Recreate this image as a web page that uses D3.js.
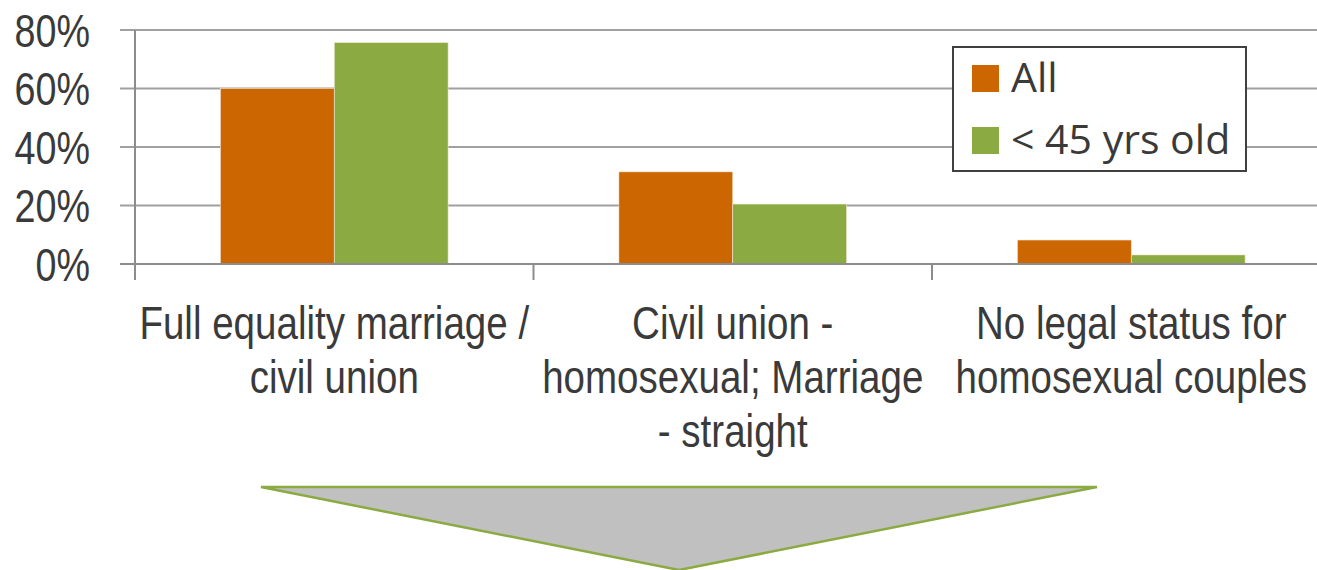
<!DOCTYPE html>
<html>
<head>
<meta charset="utf-8">
<script src="https://cdn.jsdelivr.net/npm/d3@7"></script>
<style>
  html, body { margin: 0; padding: 0; background: #fff; }
  svg { display: block; }
</style>
</head>
<body>
<svg id="chart" width="1317" height="570"></svg>
<script>
/* data */
const categories = ["Full equality", "Civil union / Marriage", "No legal status"];
const categoryLines = [
  ["Full equality marriage /", "civil union"],
  ["Civil union -", "homosexual; Marriage", "- straight"],
  ["No legal status for", "homosexual couples"]
];
const seriesNames = ["All", "< 45 yrs old"];
const valuesAll = [0.60, 0.315, 0.082];
const valuesYoung = [0.757, 0.205, 0.031];
const yTicks = [0, 0.2, 0.4, 0.6, 0.8];

const colors = { "All": "#cc6600", "< 45 yrs old": "#8caa42" };

const svg = d3.select("#chart");
const W = 1317, H = 570;
/* narrow face: Liberation Sans squeezed horizontally */
const narrowFont = "'Liberation Sans', Arial, sans-serif";
const squeeze = 0.82;

const x0 = d3.scaleBand().domain(categories).range([135, 1330.5]).paddingInner(0).paddingOuter(0);
const x1 = d3.scaleBand().domain(seriesNames).range([0, x0.bandwidth()]).paddingInner(0).paddingOuter(0.75);
const y = d3.scaleLinear().domain([0, 0.8]).range([264, 30]);

/* gridlines */
svg.append("g").selectAll("line").data(yTicks).join("line")
  .attr("x1", 120).attr("x2", W)
  .attr("y1", d => y(d)).attr("y2", d => y(d))
  .attr("stroke", "#a0a0a0").attr("stroke-width", 2);

/* y tick labels */
svg.append("g").selectAll("g").data(yTicks).join("g")
  .attr("transform", d => `translate(90,${y(d)}) scale(${squeeze},1)`)
  .append("text")
  .attr("dy", "0.36em")
  .attr("text-anchor", "end")
  .attr("font-family", narrowFont)
  .attr("font-size", 46).attr("fill", "#3a3a3a")
  .text(d => d3.format(".0%")(d));

/* bars */
const rows = categories.map((c, i) => ({ cat: c, vals: [
  { s: seriesNames[0], v: valuesAll[i] },
  { s: seriesNames[1], v: valuesYoung[i] }
] }));

svg.append("g").selectAll("g").data(rows).join("g")
  .attr("transform", d => `translate(${x0(d.cat)},0)`)
  .selectAll("rect").data(d => d.vals).join("rect")
  .attr("x", d => x1(d.s)).attr("width", x1.bandwidth())
  .attr("y", d => y(d.v)).attr("height", d => y(0) - y(d.v))
  .attr("fill", d => colors[d.s])
  .attr("stroke", "#f4e8d8").attr("stroke-width", 0.6);

/* axis lines and ticks */
svg.append("line").attr("x1", 120).attr("x2", W).attr("y1", y(0)).attr("y2", y(0))
  .attr("stroke", "#8c8c8c").attr("stroke-width", 2);
svg.append("line").attr("x1", 135).attr("x2", 135).attr("y1", y(0.8)).attr("y2", 280)
  .attr("stroke", "#8c8c8c").attr("stroke-width", 2);
const catTicks = categories.map(c => x0(c)).concat([x0.range()[1]]);
svg.append("g").selectAll("line").data(catTicks.slice(1)).join("line")
  .attr("x1", d => d).attr("x2", d => d).attr("y1", y(0)).attr("y2", 280)
  .attr("stroke", "#8c8c8c").attr("stroke-width", 2);

/* category labels */
svg.append("g").selectAll("g").data(categories).join("g")
  .attr("transform", d => `translate(${x0(d) + x0.bandwidth() / 2},339) scale(${squeeze},1)`)
  .append("text")
  .attr("text-anchor", "middle")
  .attr("font-family", narrowFont)
  .attr("font-size", 47).attr("fill", "#3a3a3a")
  .each(function (d, i) {
    d3.select(this).selectAll("tspan").data(categoryLines[i]).join("tspan")
      .attr("x", 0)
      .attr("dy", (t, j) => j === 0 ? 0 : 54)
      .text(t => t);
  });

/* legend */
const legend = svg.append("g");
legend.append("rect").attr("x", 953).attr("y", 47).attr("width", 293).attr("height", 124)
  .attr("fill", "#fff").attr("stroke", "#404040").attr("stroke-width", 2);
seriesNames.forEach((s, i) => {
  const ly = 65 + i * 62;
  legend.append("rect").attr("x", 972).attr("y", ly).attr("width", 27).attr("height", 27)
    .attr("fill", colors[s]);
  legend.append("text").attr("x", 1011).attr("y", ly + 27)
    .attr("font-family", "'Open Sans', sans-serif")
    .attr("font-size", 41).attr("fill", "#3a3a3a")
    .text(s);
});

/* arrow triangle below */
svg.append("path")
  .attr("d", d3.line()([[261, 487], [1097, 487], [679, 570]]) + "Z")
  .attr("fill", "#c0c0c0").attr("stroke", "#8caa42").attr("stroke-width", 2.5);
</script>
</body>
</html>
